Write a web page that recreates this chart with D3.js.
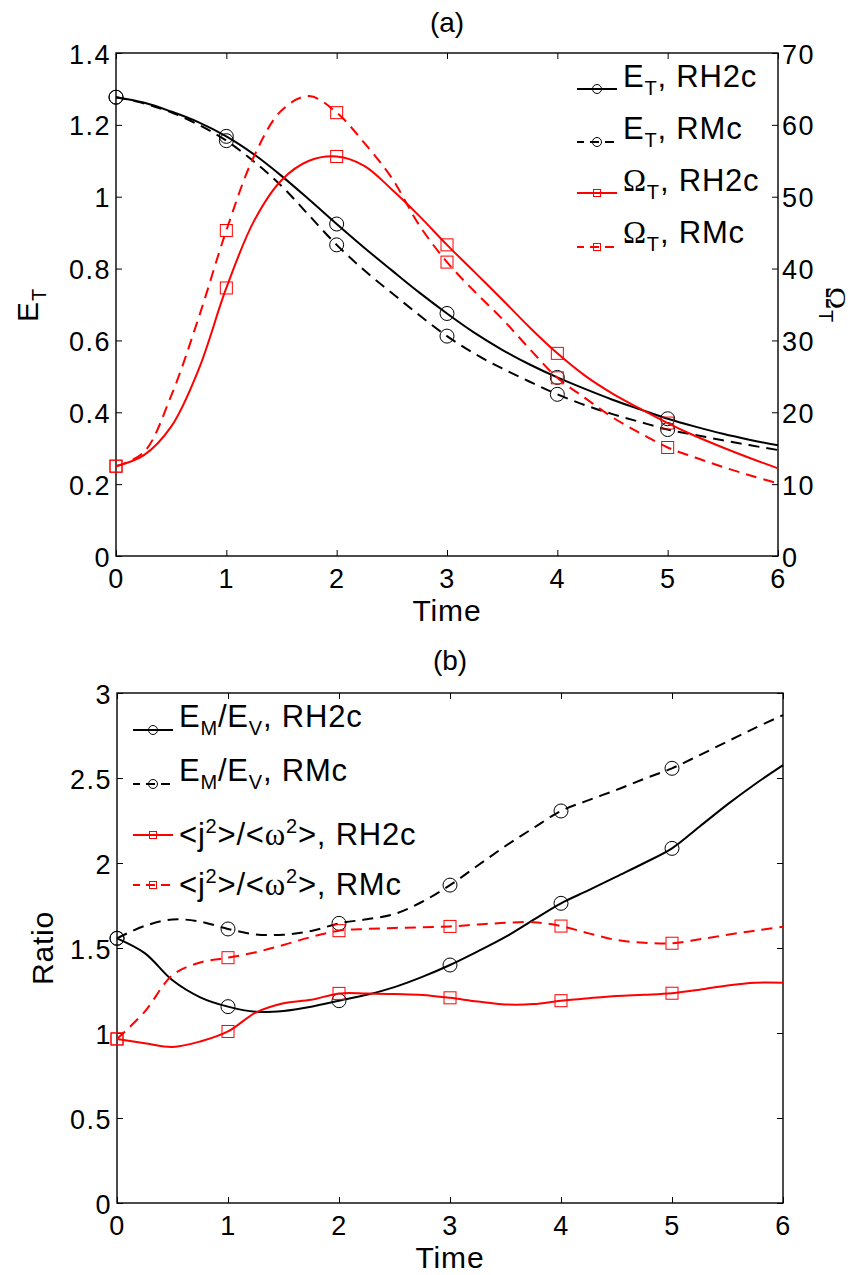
<!DOCTYPE html>
<html>
<head>
<meta charset="utf-8">
<script src="https://cdn.jsdelivr.net/npm/d3@7"></script>
<style>
body { margin: 0; background: #fff; }
svg text { font-family: "Liberation Sans", Arial, Helvetica, sans-serif; fill: #000; }
</style>
</head>
<body>
<svg id="chart" width="860" height="1275"></svg>
<script>
// sample times (every 0.25), markers sit on the whole numbers 0..5
const time = [0, 0.25, 0.5, 0.75, 1, 1.25, 1.5, 1.75, 2, 2.25, 2.5, 2.75, 3,
              3.25, 3.5, 3.75, 4, 4.25, 4.5, 4.75, 5, 5.25, 5.5, 5.75, 6];
const markerTimes = [0, 1, 2, 3, 4, 5];
const timeTicks = [0, 1, 2, 3, 4, 5, 6];

// (a) total energy E_T (left axis) and enstrophy Omega_T (right axis)
const energyRH2c = [1.277, 1.262, 1.237, 1.207, 1.168, 1.118, 1.058, 0.992, 0.924, 0.858, 0.795, 0.733, 0.675,
                    0.621, 0.574, 0.533, 0.497, 0.465, 0.435, 0.408, 0.382, 0.360, 0.340, 0.323, 0.308];
const energyRMc = [1.277, 1.260, 1.235, 1.200, 1.156, 1.098, 1.030, 0.948, 0.866, 0.795, 0.732, 0.670, 0.612,
                   0.563, 0.522, 0.485, 0.450, 0.420, 0.395, 0.373, 0.352, 0.337, 0.322, 0.308, 0.295];
const enstrophyRH2c = [12.5, 14.0, 18.0, 26.0, 37.3, 46.6, 52.3, 55.0, 55.6, 54.3, 51.0, 47.3, 43.3,
                       39.5, 35.7, 31.8, 28.2, 25.1, 22.6, 20.5, 18.5, 16.7, 15.1, 13.6, 12.2];
const enstrophyRMc = [12.5, 14.4, 22.3, 33.2, 45.3, 55.6, 62.0, 64.0, 61.7, 57.5, 52.6, 46.0, 40.9,
                      36.8, 33.0, 28.8, 24.8, 22.0, 19.3, 17.1, 15.1, 13.7, 12.4, 11.2, 10.1];
const energyTicks = [0, 0.2, 0.4, 0.6, 0.8, 1, 1.2, 1.4];
const enstrophyTicks = [0, 10, 20, 30, 40, 50, 60, 70];

// (b) ratios
const emevRH2c = [1.557, 1.47, 1.31, 1.21, 1.155, 1.125, 1.13, 1.155, 1.19, 1.225, 1.27, 1.33, 1.40,
                  1.48, 1.565, 1.665, 1.763, 1.84, 1.92, 2.0, 2.086, 2.215, 2.345, 2.465, 2.576];
const emevRMc = [1.557, 1.63, 1.668, 1.655, 1.612, 1.58, 1.578, 1.60, 1.645, 1.669, 1.70, 1.772, 1.87,
                 1.985, 2.10, 2.205, 2.306, 2.37, 2.43, 2.495, 2.557, 2.635, 2.715, 2.795, 2.87];
const jwRH2c = [0.965, 0.94, 0.918, 0.95, 1.009, 1.12, 1.175, 1.195, 1.233, 1.233, 1.229, 1.224, 1.207,
                1.185, 1.168, 1.17, 1.19, 1.205, 1.218, 1.225, 1.234, 1.255, 1.28, 1.296, 1.296];
const jwRMc = [0.965, 1.126, 1.34, 1.415, 1.443, 1.475, 1.518, 1.565, 1.602, 1.612, 1.618, 1.622, 1.627,
               1.638, 1.648, 1.652, 1.629, 1.586, 1.547, 1.531, 1.528, 1.551, 1.578, 1.602, 1.625];
const ratioTicks = [0, 0.5, 1, 1.5, 2, 2.5, 3];

const RED = "#ff0000";
const svg = d3.select("#chart");
const fmt = d => String(+d.toFixed(2));

const xA = d3.scaleLinear().domain([0, 6]).range([116, 778]);
const yA = d3.scaleLinear().domain([0, 1.4]).range([556, 53]);
const yA2 = d3.scaleLinear().domain([0, 70]).range([556, 53]);
const xB = d3.scaleLinear().domain([0, 6]).range([117, 783]);
const yB = d3.scaleLinear().domain([0, 3]).range([1203, 693]);

function styleAxis(g, labelSize) {
    g.select(".domain").remove();
    g.selectAll(".tick line").attr("stroke", "#000").attr("stroke-width", 1);
    g.selectAll(".tick text")
        .style("font-size", labelSize + "px")
        .style("letter-spacing", "1.5px")
        .attr("fill", "#000");
}

function drawFrame(x, y, yTicks, rightScale, rightTicks) {
    const [x0, x1] = x.range();
    const [y0, y1] = y.range();
    const g = svg.append("g");

    g.append("g").attr("transform", `translate(0,${y0})`)
        .call(d3.axisBottom(x).tickValues(timeTicks).tickFormat(fmt).tickSize(-6).tickSizeOuter(0).tickPadding(13))
        .call(s => styleAxis(s, 27));
    g.append("g").attr("transform", `translate(0,${y1})`)
        .call(d3.axisTop(x).tickValues(timeTicks).tickFormat("").tickSize(-6).tickSizeOuter(0))
        .call(s => styleAxis(s, 27));
    g.append("g").attr("transform", `translate(${x0},0)`)
        .call(d3.axisLeft(y).tickValues(yTicks).tickFormat(fmt).tickSize(-6).tickSizeOuter(0).tickPadding(5))
        .call(s => styleAxis(s, 27))
        .selectAll(".tick text").attr("dy", "0.37em");

    if (rightScale) {
        g.append("g").attr("transform", `translate(${x1},0)`)
            .call(d3.axisRight(rightScale).tickValues(rightTicks).tickFormat(fmt).tickSize(-6).tickSizeOuter(0).tickPadding(4))
            .call(s => styleAxis(s, 27))
            .selectAll(".tick text").attr("dy", "0.37em");
    } else {
        g.append("g").attr("transform", `translate(${x1},0)`)
            .call(d3.axisRight(y).tickValues(yTicks).tickFormat("").tickSize(-6).tickSizeOuter(0))
            .call(s => styleAxis(s, 27));
    }

    g.append("rect")
        .attr("x", x0).attr("y", y1)
        .attr("width", x1 - x0).attr("height", y0 - y1)
        .attr("fill", "none").attr("stroke", "#000").attr("stroke-width", 1.4);
}

function drawMarker(g, cx, cy, shape, color, size) {
    if (shape === "circle") {
        g.append("circle").attr("cx", cx).attr("cy", cy).attr("r", size / 2)
            .attr("fill", "none").attr("stroke", color).attr("stroke-width", 1);
    } else {
        g.append("rect").attr("x", cx - size / 2).attr("y", cy - size / 2)
            .attr("width", size).attr("height", size)
            .attr("fill", "none").attr("stroke", color).attr("stroke-width", 1);
    }
}

function drawSeries(x, y, values, color, dashed, shape) {
    const g = svg.append("g");
    const line = d3.line()
        .x((d, i) => x(time[i]))
        .y(d => y(d))
        .curve(d3.curveCatmullRom.alpha(0.5));
    g.append("path")
        .attr("d", line(values))
        .attr("fill", "none")
        .attr("stroke", color)
        .attr("stroke-width", 2)
        .attr("stroke-dasharray", dashed ? "11,7" : null);
    markerTimes.forEach(t => {
        const v = values[time.indexOf(t)];
        drawMarker(g, x(t), y(v), shape, color, shape === "circle" ? 14 : 12);
    });
}

// rich text: parts are [text, kind] with kind "", "sub", "sup" or "sym"
function richText(g, parts, size) {
    const text = g.append("text").style("font-size", size + "px").style("letter-spacing", "0.8px");
    let shift = 0;
    const small = Math.round(size * 0.66);
    parts.forEach(([str, kind]) => {
        let target = 0;
        if (kind === "sub") target = size * 0.25;
        if (kind === "sup") target = -size * 0.38;
        const ts = text.append("tspan").text(str).attr("dy", target - shift);
        shift = target;
        if (kind === "sub" || kind === "sup") ts.style("font-size", small + "px");
        if (kind === "sym") ts.style("font-family", "'Liberation Serif', 'Times New Roman', serif");
    });
    return text;
}

function legendRow(x0, yLine, yText, color, dashed, shape, parts) {
    const g = svg.append("g");
    g.append("line")
        .attr("x1", x0).attr("x2", x0 + 40)
        .attr("y1", yLine).attr("y2", yLine)
        .attr("stroke", color).attr("stroke-width", 2)
        .attr("stroke-dasharray", dashed ? "9,6" : null)
        .attr("stroke-dashoffset", dashed ? 2 : null);
    drawMarker(g, x0 + 20, yLine, shape, color, shape === "circle" ? 9 : 7);
    richText(g, parts, 31).attr("x", x0 + 46).attr("y", yText);
}

// ---------- panel (a) ----------
drawFrame(xA, yA, energyTicks, yA2, enstrophyTicks);
drawSeries(xA, yA, energyRH2c, "#000", false, "circle");
drawSeries(xA, yA, energyRMc, "#000", true, "circle");
drawSeries(xA, yA2, enstrophyRH2c, RED, false, "square");
drawSeries(xA, yA2, enstrophyRMc, RED, true, "square");

svg.append("text").attr("x", 447).attr("y", 32).attr("text-anchor", "middle")
    .style("font-size", "28px").text("(a)");
svg.append("text").attr("x", 447).attr("y", 621).attr("text-anchor", "middle")
    .style("font-size", "30px").style("letter-spacing", "0.8px").text("Time");
richText(svg.append("g").attr("transform", "translate(38,305) rotate(-90)"), [["E", ""], ["T", "sub"]], 30)
    .attr("text-anchor", "middle");
richText(svg.append("g").attr("transform", "translate(826,305) rotate(90)"), [["Ω", "sym"], ["T", "sub"]], 30)
    .attr("text-anchor", "middle");

legendRow(577, 89, 87, "#000", false, "circle", [["E", ""], ["T", "sub"], [", RH2c", ""]]);
legendRow(577, 142, 139, "#000", true, "circle", [["E", ""], ["T", "sub"], [", RMc", ""]]);
legendRow(577, 193, 191, RED, false, "square", [["Ω", "sym"], ["T", "sub"], [", RH2c", ""]]);
legendRow(577, 247, 243, RED, true, "square", [["Ω", "sym"], ["T", "sub"], [", RMc", ""]]);

// ---------- panel (b) ----------
drawFrame(xB, yB, ratioTicks, null, null);
drawSeries(xB, yB, emevRH2c, "#000", false, "circle");
drawSeries(xB, yB, emevRMc, "#000", true, "circle");
drawSeries(xB, yB, jwRH2c, RED, false, "square");
drawSeries(xB, yB, jwRMc, RED, true, "square");

svg.append("text").attr("x", 450).attr("y", 670).attr("text-anchor", "middle")
    .style("font-size", "28px").text("(b)");
svg.append("text").attr("x", 450).attr("y", 1268).attr("text-anchor", "middle")
    .style("font-size", "30px").style("letter-spacing", "0.8px").text("Time");
svg.append("text").attr("transform", "translate(53,948) rotate(-90)").attr("text-anchor", "middle")
    .style("font-size", "30px").style("letter-spacing", "0.8px").text("Ratio");

legendRow(133, 730, 727, "#000", false, "circle", [["E", ""], ["M", "sub"], ["/E", ""], ["V", "sub"], [", RH2c", ""]]);
legendRow(133, 784, 781, "#000", true, "circle", [["E", ""], ["M", "sub"], ["/E", ""], ["V", "sub"], [", RMc", ""]]);
legendRow(133, 835, 845, RED, false, "square", [["<j", ""], ["2", "sup"], [">/<", ""], ["ω", "sym"], ["2", "sup"], [">, RH2c", ""]]);
legendRow(133, 885, 895, RED, true, "square", [["<j", ""], ["2", "sup"], [">/<", ""], ["ω", "sym"], ["2", "sup"], [">, RMc", ""]]);
</script>
</body>
</html>
